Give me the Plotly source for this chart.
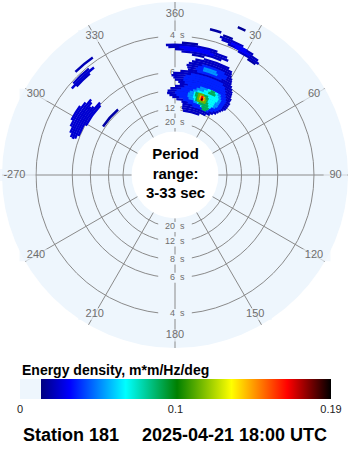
import plotly.graph_objects as go

# ---------------------------------------------------------------------------
# Axes: direction (deg, clockwise from north) and wave period / frequency
# ---------------------------------------------------------------------------
ANGLE_TICKS = [0, 30, 60, 90, 120, 150, 180, 210, 240, 270, 300, 330]
ANGLE_LABELS = ["360", "30", "60", "90", "120", "150", "180", "210", "240", "-270", "300", "330"]
PERIOD_TICKS = [4, 6, 8, 12, 20]          # seconds, drawn as rings
PERIOD_RANGE = [3, 33]                    # seconds

# Colour scale for energy density (m*m/Hz/deg)
E_MAX = 0.19
CBAR_TICKS = [0, 0.095, 0.19]
CBAR_TEXT = ["0", "0.1", "0.19"]

# ---------------------------------------------------------------------------
# Directional spectrum, stored as arc segments:
# [frequency bin centre (Hz), direction from (deg), direction to (deg), energy]
# ---------------------------------------------------------------------------
# NNE wind sea: outer envelope
nne_base = [
    [0.080, 7, 22, 0.022], [0.085, 6, 27, 0.022], [0.090, 6, 30, 0.022],
    [0.095, 6, 32, 0.022], [0.100, 5, 34, 0.022], [0.105, 1, 35, 0.022],
    [0.110, -2, 36, 0.022], [0.115, -4, 37, 0.022], [0.120, -5.5, 38, 0.022],
    [0.125, -5, 38, 0.022], [0.130, -3, 38, 0.022], [0.135, 0, 38, 0.022],
    [0.140, 3, 37, 0.022], [0.145, 2, 37, 0.022], [0.150, 0, 36, 0.022],
    [0.155, -1, 35.5, 0.022], [0.160, -2, 35, 0.022], [0.165, -1, 34, 0.022],
    [0.170, 3, 33, 0.022], [0.175, 7, 32, 0.022], [0.180, 6.5, 31.5, 0.022],
    [0.185, 6, 31, 0.022], [0.190, 7, 30, 0.022], [0.195, 8.5, 29.5, 0.022],
    [0.200, 10, 29, 0.022], [0.205, 14, 27, 0.022],
]
# NNE wind sea: inner levels
nne_core = [
    [0.095, 14, 28, 0.035], [0.100, 10, 31, 0.035], [0.105, 6, 33, 0.035],
    [0.110, 3, 34, 0.035], [0.115, 1, 35, 0.035], [0.120, 0, 35, 0.035],
    [0.125, 1, 35, 0.035], [0.130, 4, 35, 0.035], [0.135, 6, 35, 0.035],
    [0.140, 8, 34, 0.035], [0.145, 6, 33, 0.035], [0.150, 5, 32, 0.035],
    [0.155, 5, 31, 0.035], [0.160, 6, 30, 0.035], [0.165, 9, 28, 0.035],
    [0.175, 12, 26, 0.035], [0.180, 11, 28, 0.035], [0.185, 12, 28, 0.035],
    [0.190, 14, 26, 0.035],
    [0.105, 14, 28, 0.050], [0.110, 10, 31, 0.050], [0.115, 9, 32, 0.050],
    [0.120, 9, 32, 0.050], [0.125, 10, 32, 0.050], [0.130, 12, 32, 0.050],
    [0.135, 14, 31, 0.050], [0.140, 16, 30, 0.050], [0.180, 15, 23, 0.050],
    [0.185, 15, 22, 0.050],
    [0.100, 20, 27, 0.065], [0.105, 17, 28, 0.065], [0.110, 14, 29, 0.065],
    [0.115, 13, 29, 0.065], [0.120, 13, 29, 0.065], [0.125, 13, 30, 0.065],
    [0.130, 15, 30, 0.065], [0.135, 19, 29, 0.065], [0.140, 21, 28, 0.065],
    [0.095, 22, 26, 0.085], [0.100, 21, 27, 0.085], [0.105, 18, 26, 0.085],
    [0.110, 15, 25, 0.085], [0.115, 15, 24, 0.085], [0.120, 14, 24, 0.085],
    [0.125, 14, 23, 0.085], [0.135, 22, 27, 0.085], [0.140, 23, 26, 0.085],
    [0.110, 16.5, 23, 0.110], [0.115, 16, 23, 0.110], [0.120, 16, 22, 0.110],
    [0.125, 16, 20, 0.110],
    [0.115, 17.5, 21.5, 0.140], [0.120, 17.5, 21, 0.140],
    [0.115, 18.5, 20.5, 0.165], [0.120, 18.5, 20, 0.165],
    [0.115, 19.2, 20.0, 0.190],
]
# short-period streaks north / north-east
north_streaks = [
    [0.210, 8, 14, 0.020], [0.215, 3, 22, 0.022], [0.220, 0, 25, 0.022],
    [0.225, -3, 24, 0.022], [0.230, -4, 19, 0.022], [0.235, 3, 10, 0.018],
    [0.220, 4, 18, 0.030], [0.225, 2, 16, 0.030],
    [0.245, 32, 36, 0.018], [0.250, 27, 37, 0.022], [0.255, 22, 36, 0.022],
    [0.260, 19, 33, 0.022], [0.265, 18, 28, 0.022], [0.270, 19, 23, 0.018],
    [0.255, 25, 32, 0.030], [0.260, 23, 30, 0.030],
    [0.275, 13.5, 18, 0.018], [0.300, 23, 26, 0.016],
]
# north-west swell and streaks
northwest = [
    [0.165, 299, 313, 0.024], [0.170, 292, 314, 0.024], [0.175, 290, 310, 0.024],
    [0.180, 289.5, 309, 0.024], [0.185, 290, 311, 0.024], [0.190, 292, 312, 0.024],
    [0.195, 295, 309, 0.024], [0.200, 298, 306, 0.024],
    [0.130, 304, 319, 0.018],
    [0.235, 312, 320, 0.022], [0.240, 310, 323, 0.024], [0.245, 312, 321, 0.022],
    [0.260, 316, 325, 0.020],
]

BIN = 0.005          # frequency bin width (Hz)
BG = "#eef6fd"
GRID = "#8a8a8a"
LABEL_C = "#6e6e6e"
NBSP = "\u00a0"

F_IN = 1 / PERIOD_RANGE[1]
F_OUT = 0.3282
HOLE = 0.251
LABEL_F = 0.2995

segments = sorted(nne_base + nne_core + north_streaks + northwest, key=lambda s: s[3])
seg_f = [s[0] for s in segments]
seg_t0 = [s[1] for s in segments]
seg_t1 = [s[2] for s in segments]
seg_e = [s[3] for s in segments]

colorscale = [
    [0.0, BG], [0.0675, BG],
    [0.0675, "#000080"], [0.16, "#0000ff"], [0.34, "#00ffff"],
    [0.505, "#008000"], [0.68, "#ffff00"], [0.86, "#ff0000"], [1.0, "#000000"],
]

GRID_SP = "polar"    # background, grid and labels (drawn first)
DATA_SP = "polar2"   # spectrum, drawn over the grid

fig = go.Figure()

# ---- period ring labels (top and bottom of the vertical spoke), with masks
ring_f = [1 / p for p in PERIOD_TICKS]
for th in (0, 180):
    fig.add_trace(go.Scatterpolar(
        r=ring_f, theta=[th] * len(ring_f), mode="markers",
        marker=dict(symbol="line-ew", size=24, color=BG, line=dict(width=10, color=BG)),
        hoverinfo="skip", showlegend=False, subplot=GRID_SP))
    fig.add_trace(go.Scatterpolar(
        r=ring_f, theta=[th] * len(ring_f), mode="text",
        text=[str(p) for p in PERIOD_TICKS], textposition="middle left",
        textfont=dict(family="Liberation Sans", size=9, color=LABEL_C),
        hoverinfo="skip", showlegend=False, subplot=GRID_SP))
    fig.add_trace(go.Scatterpolar(
        r=ring_f, theta=[th] * len(ring_f), mode="text",
        text=[NBSP * 2 + "s"] * len(ring_f), textposition="middle right",
        textfont=dict(family="Liberation Sans", size=9, color=LABEL_C),
        hoverinfo="skip", showlegend=False, subplot=GRID_SP))

# ---- direction labels, with masks over the spokes
fig.add_trace(go.Scatterpolar(
    r=[LABEL_F] * len(ANGLE_TICKS), theta=ANGLE_TICKS, mode="markers",
    marker=dict(symbol="line-ew", size=[6.5 * len(t) + 4 for t in ANGLE_LABELS],
                color=BG, line=dict(width=12, color=BG)),
    hoverinfo="skip", showlegend=False, subplot=GRID_SP))
fig.add_trace(go.Scatterpolar(
    r=[LABEL_F] * len(ANGLE_TICKS), theta=ANGLE_TICKS, mode="text",
    text=ANGLE_LABELS, textposition="middle center",
    textfont=dict(family="Liberation Sans", size=11, color=LABEL_C),
    hoverinfo="skip", showlegend=False, subplot=GRID_SP))

# ---- spectrum
fig.add_trace(go.Barpolar(
    base=[f - BIN * 0.56 for f in seg_f],
    r=[BIN * 1.12] * len(seg_f),
    theta=[(a + b) / 2 for a, b in zip(seg_t0, seg_t1)],
    width=[b - a for a, b in zip(seg_t0, seg_t1)],
    marker=dict(
        color=seg_e, cmin=0, cmax=E_MAX, colorscale=colorscale,
        line=dict(width=0),
        showscale=True,
        colorbar=dict(
            orientation="h", x=175.5 / 350, xanchor="center",
            y=(450 - 379) / 450, yanchor="top",
            len=311, lenmode="pixels", thickness=20, thicknessmode="pixels",
            outlinewidth=0, ticks="", tickvals=CBAR_TICKS, ticktext=CBAR_TEXT,
            tickfont=dict(family="Liberation Sans", size=11, color="#222222"),
            xpad=0, ypad=0,
        ),
    ),
    hoverinfo="skip", showlegend=False, subplot=DATA_SP))

domain = dict(x=[2 / 350, 348 / 350], y=[102 / 450, 448 / 450])
grid_polar = dict(
    domain=domain, hole=HOLE, bgcolor=BG,
    radialaxis=dict(range=[F_IN, F_OUT], tickvals=ring_f, showticklabels=False,
                    ticks="", showline=False, gridcolor=GRID, gridwidth=1),
    angularaxis=dict(rotation=90, direction="clockwise", tickvals=ANGLE_TICKS,
                     showticklabels=False, ticks="", showline=False,
                     gridcolor=GRID, gridwidth=1),
)
data_polar = dict(
    domain=domain, hole=HOLE, bgcolor="rgba(0,0,0,0)",
    radialaxis=dict(range=[F_IN, F_OUT], visible=False),
    angularaxis=dict(rotation=90, direction="clockwise", visible=False),
)

fig.update_layout(
    width=350, height=450, margin=dict(l=0, r=0, t=0, b=0),
    paper_bgcolor="white", showlegend=False,
    polar=grid_polar, polar2=data_polar,
    annotations=[
        dict(text="Period<br>range:<br>3-33 sec", x=0.5, y=(450 - 173) / 450,
             xref="paper", yref="paper", showarrow=False, xanchor="center",
             yanchor="middle",
             font=dict(family="Liberation Sans", size=15, color="black", weight="bold")),
        dict(text="Energy density, m*m/Hz/deg", x=20 / 350, y=(450 - 370) / 450,
             xref="paper", yref="paper", showarrow=False, xanchor="left",
             yanchor="middle",
             font=dict(family="Liberation Sans", size=14, color="black", weight="bold")),
        dict(text="Station 181", x=21 / 350, y=(450 - 435) / 450,
             xref="paper", yref="paper", showarrow=False, xanchor="left",
             yanchor="middle",
             font=dict(family="Liberation Sans", size=18, color="black", weight="bold")),
        dict(text="2025-04-21 18:00 UTC", x=329 / 350, y=(450 - 435) / 450,
             xref="paper", yref="paper", showarrow=False, xanchor="right",
             yanchor="middle",
             font=dict(family="Liberation Sans", size=18, color="black", weight="bold")),
    ],
)

fig.write_html("out.html")
